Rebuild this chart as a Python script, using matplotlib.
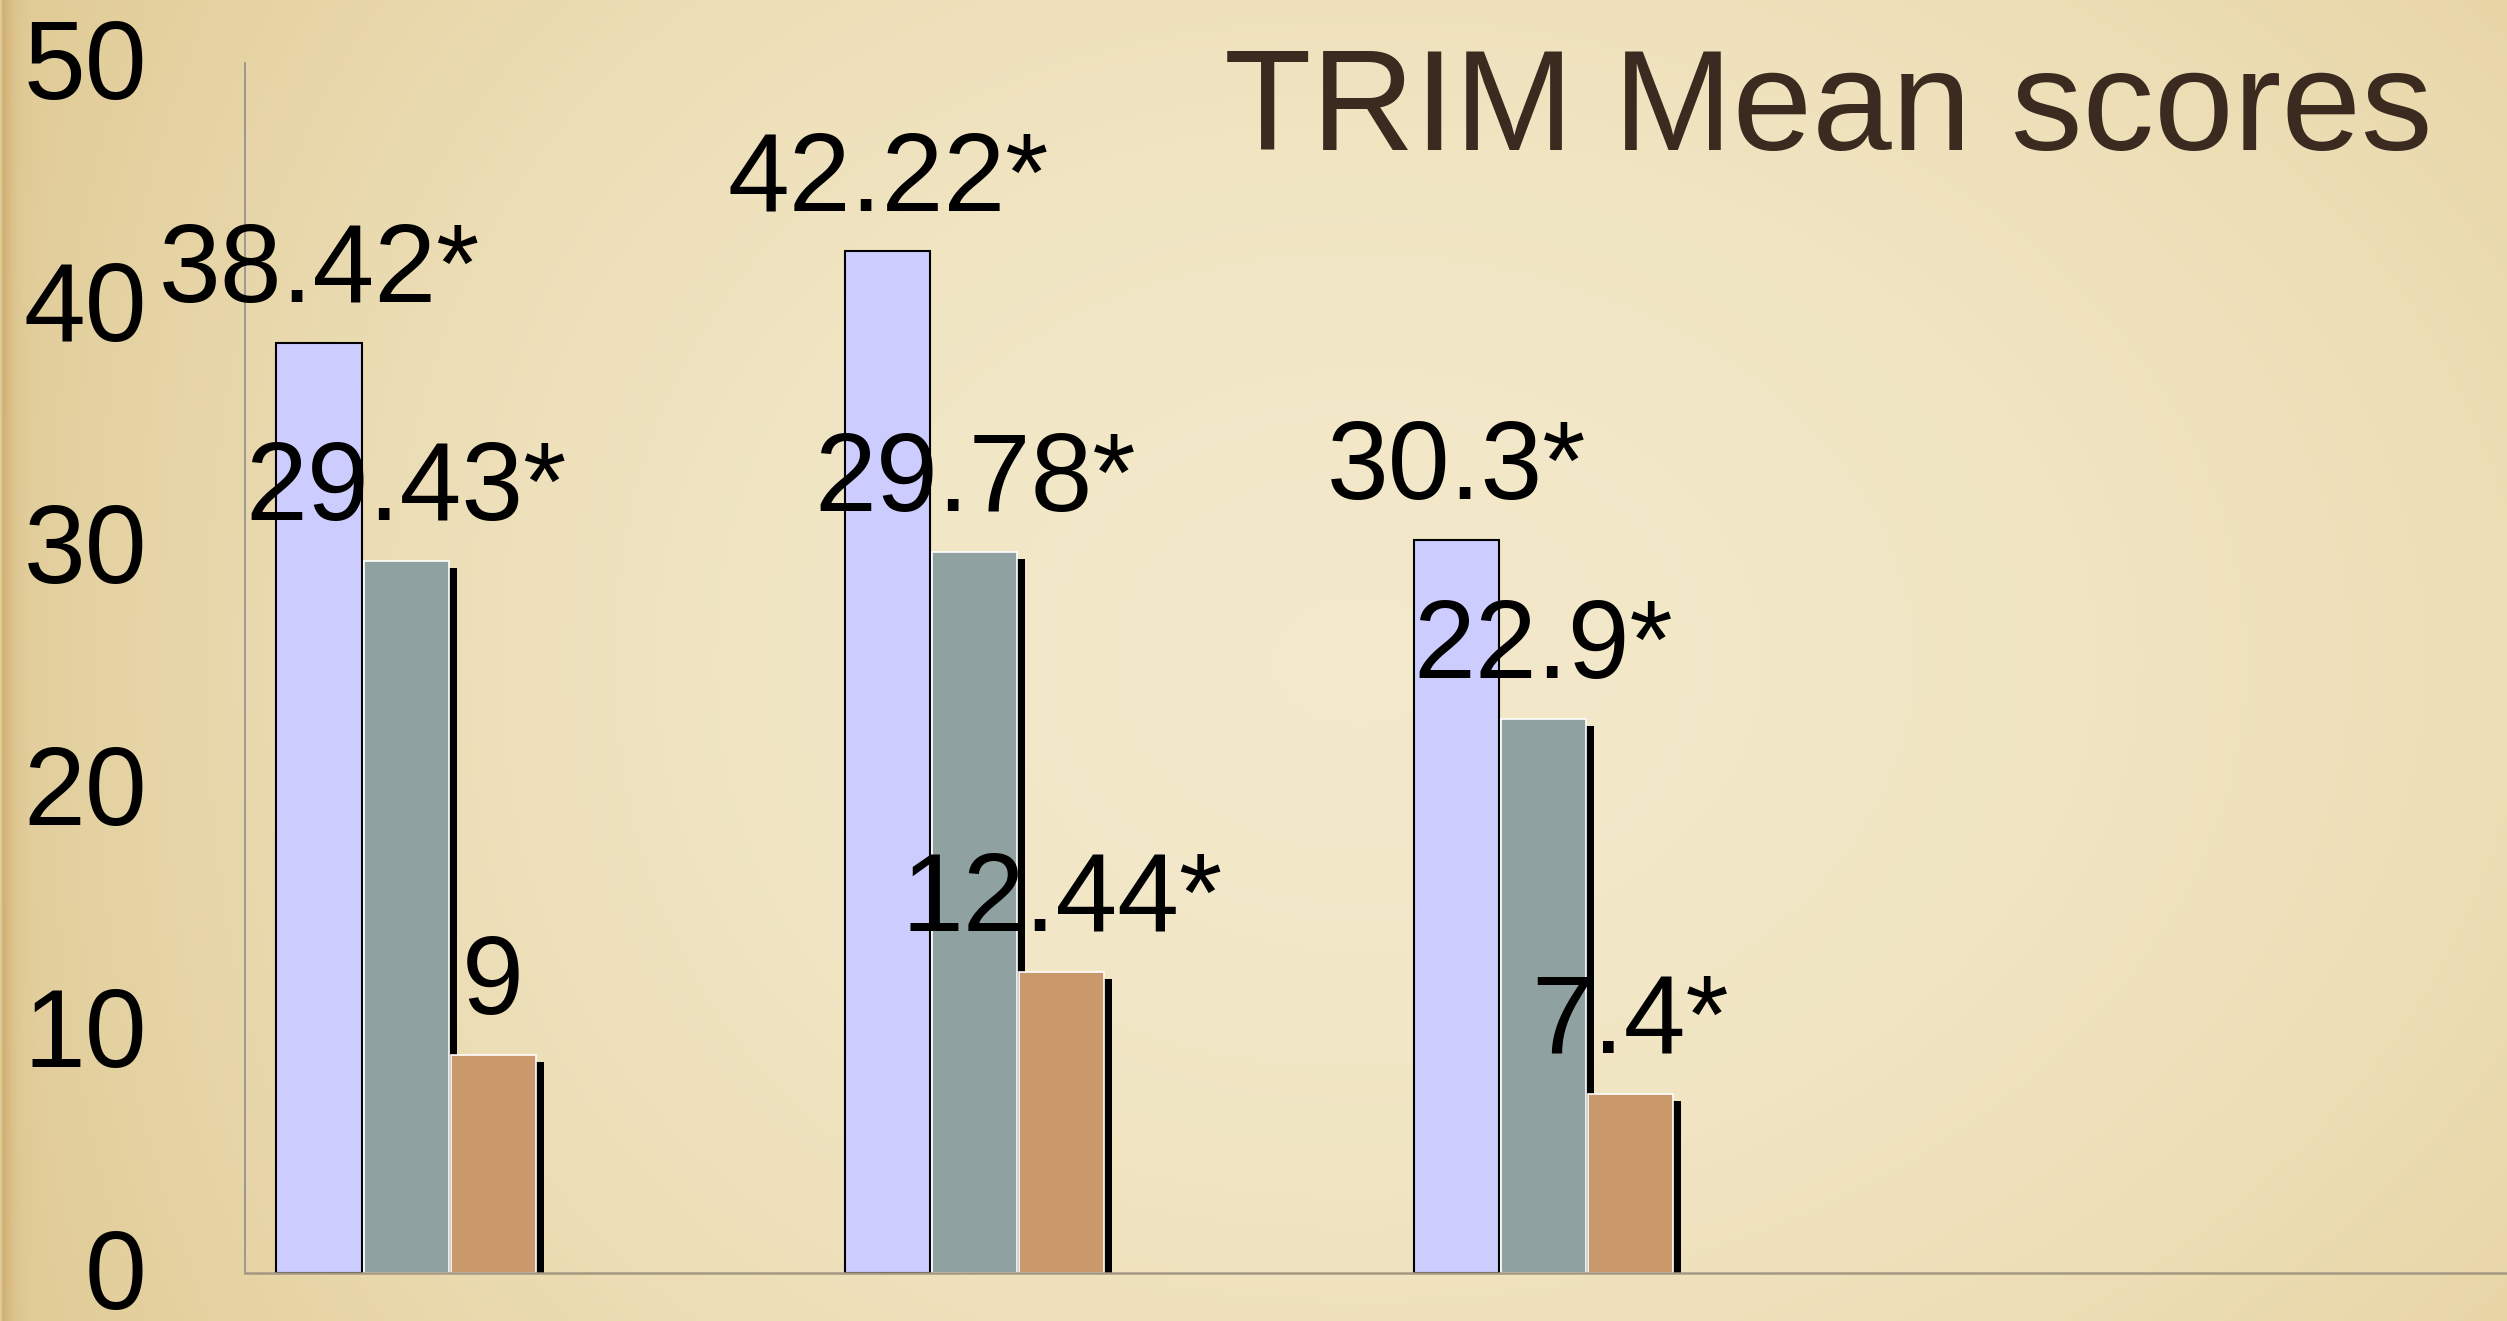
import numpy as np
import matplotlib
matplotlib.use("Agg")
import matplotlib.pyplot as plt
from matplotlib.transforms import ScaledTranslation

# ---------------- data ----------------
groups = ["Group 1", "Group 2", "Group 3"]
series_a = [38.42, 42.22, 30.3]
series_b = [29.43, 29.78, 22.9]
series_c = [9, 12.44, 7.4]
labels_a = ["38.42*", "42.22*", "30.3*"]
labels_b = ["29.43*", "29.78*", "22.9*"]
labels_c = ["9", "12.44*", "7.4*"]
y_ticks = [0, 10, 20, 30, 40, 50]
title = "TRIM Mean scores"

# ---------------- figure ----------------
W, H, DPI = 2507, 1321, 100
plt.rcParams['font.family'] = ['Liberation Sans', 'DejaVu Sans']
fig = plt.figure(figsize=(W / DPI, H / DPI), dpi=DPI)

# parchment background
gh, gw = 330, 1254
v, u = np.mgrid[0:gh, 0:gw]
u = u / (gw - 1)
v = v / (gh - 1)
light = np.array([0.953, 0.915, 0.795])
edge = np.array([0.895, 0.810, 0.600])
edge2 = np.array([0.860, 0.770, 0.550])
dark = np.array([0.800, 0.650, 0.400])
t = np.clip(np.sqrt(((u - 0.52) / 0.72) ** 2 + ((v - 0.5) / 0.95) ** 2), 0, 1)
mix = (t ** 2)[..., None]
img = light + (edge - light) * mix
xpx = u * W
w1 = (0.6 * np.exp(-xpx / 320.0))[..., None]
img = img + (edge2 - img) * w1
w2 = (0.75 * np.exp(-np.clip(xpx - 3, 0, None) / 9.0) * (xpx > 2))[..., None]
img = img + (dark - img) * w2
bg = fig.add_axes([0, 0, 1, 1], zorder=-10)
bg.imshow(img, aspect='auto', interpolation='bilinear', extent=[0, 1, 0, 1])
bg.set_axis_off()

# main axes
ax = fig.add_axes([245 / W, 1 - 1273 / H, 1 - 245 / W, (1273 - 63) / H])
ax.set_facecolor('none')
ax.set_xlim(-0.2831, 3.694)
ax.set_ylim(0, 50)

x = np.arange(len(groups))
step = 0.153
width = 0.1495

shadow_tf = ax.transData + ScaledTranslation(8 / DPI, -7 / DPI, fig.dpi_scale_trans)
for off, vals in [(0.0, series_b), (step, series_c)]:
    sh = ax.bar(x + off, vals, width, color='black', linewidth=0, zorder=1)
    for p in sh:
        p.set_transform(shadow_tf)

ax.bar(x - step, series_a, width, color='#CCCCFF', edgecolor='black',
       linewidth=1.5, zorder=2)
ax.bar(x, series_b, width, color='#8FA1A1', edgecolor='white',
       linewidth=1.2, zorder=2)
ax.bar(x + step, series_c, width, color='#C9996B', edgecolor='white',
       linewidth=1.2, zorder=2)

for off, vals, labs in [(-step, series_a, labels_a), (0.0, series_b, labels_b),
                        (step, series_c, labels_c)]:
    for xi, val, lab in zip(x + off, vals, labs):
        ax.annotate(lab, (xi, val), xytext=(0, 29.5), textcoords='offset points',
                    ha='center', va='baseline', fontsize=80, color='black',
                    zorder=5)

ax.set_yticks(y_ticks)
ax.set_yticklabels([str(t) for t in y_ticks])
ax.set_xticks([])
ax.tick_params(axis='y', length=0, pad=70.6, labelsize=80, labelcolor='black')
lift = ScaledTranslation(0, 4 / DPI, fig.dpi_scale_trans)
for lbl in ax.get_yticklabels():
    lbl.set_transform(lbl.get_transform() + lift)
for side in ['top', 'right']:
    ax.spines[side].set_visible(False)
ax.spines['left'].set_color('#8E8E8E')
ax.spines['left'].set_linewidth(1.2)
ax.spines['bottom'].set_color('#A49882')
ax.spines['bottom'].set_linewidth(1.8)

fig.text(2433 / W, 1 - 150 / H, title, ha='right', va='baseline',
         fontsize=103, color='#3B2A20')

fig.savefig('out.png', dpi=DPI)
